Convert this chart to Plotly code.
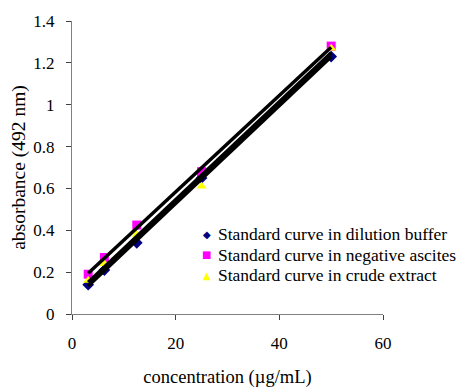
import numpy as np
import plotly.graph_objects as go

conc = [3.125, 6.25, 12.5, 25, 50]
buffer_vals = [0.14, 0.21, 0.34, 0.65, 1.23]
ascites_vals = [0.19, 0.27, 0.425, 0.68, 1.28]
crude_vals = [0.16, 0.24, 0.38, 0.61, 1.27]

series_names = ["Standard curve in dilution buffer",
                "Standard curve in negative ascites",
                "Standard curve in crude extract"]
series_vals = [buffer_vals, ascites_vals, crude_vals]
colors = ["#000080", "#FF00FF", "#FFFF00"]
symbols = ["diamond", "square", "triangle-up"]
legend_glyphs = ["\u25C6", "\u25A0", "\u25B2"]

fig = go.Figure()
for name, vals, color, sym in zip(series_names, series_vals, colors, symbols):
    fig.add_trace(go.Scatter(x=conc, y=vals, mode="markers", name=name, showlegend=False,
                             marker=dict(color=color, symbol=sym, size=9, line=dict(width=0))))
# linear trendlines
for vals in series_vals:
    k, b = np.polyfit(conc, vals, 1)
    xs = [conc[0], conc[-1]]
    fig.add_trace(go.Scatter(x=xs, y=[k * v + b for v in xs], mode="lines",
                             line=dict(color="black", width=3.5), showlegend=False,
                             hoverinfo="skip"))

serif = "Liberation Serif, Times New Roman, serif"
# legend drawn as annotations (row spacing of the original)
row_y = [0.273, 0.2014, 0.1331]
annotations = []
for name, color, glyph, yy in zip(series_names, colors, legend_glyphs, row_y):
    annotations.append(dict(xref="paper", yref="paper", x=0.434, y=yy, xanchor="center",
                            yanchor="middle", text=glyph, showarrow=False,
                            font=dict(family="DejaVu Sans", size=10, color=color)))
    annotations.append(dict(xref="paper", yref="paper", x=0.463, y=yy, xanchor="left",
                            yanchor="middle", text=name, showarrow=False,
                            font=dict(family=serif, size=17.5, color="black")))

fig.update_layout(
    width=461, height=388,
    margin=dict(l=72, r=78, t=21, b=74, autoexpand=False),
    paper_bgcolor="white", plot_bgcolor="white",
    font=dict(family=serif, size=17, color="black"),
    showlegend=False,
    annotations=annotations,
    xaxis=dict(range=[0, 60], tickvals=[0, 20, 40, 60], showgrid=False, zeroline=False,
               showline=True, linecolor="#808080", linewidth=1, ticks="outside", ticklen=5,
               tickcolor="#404040", ticklabelstandoff=9, automargin=False,
               title=dict(text="concentration (µg/mL)", standoff=19, font=dict(size=18.5))),
    yaxis=dict(range=[0, 1.4], tickvals=[0, 0.2, 0.4, 0.6, 0.8, 1, 1.2, 1.4],
               ticktext=["0", "0.2", "0.4", "0.6", "0.8", "1", "1.2", "1.4"],
               showgrid=False, zeroline=False, showline=True, linecolor="#808080", linewidth=1,
               ticks="outside", ticklen=5, tickcolor="#404040", ticklabelstandoff=8,
               automargin=False,
               title=dict(text="absorbance (492 nm)", standoff=2, font=dict(size=19.5))),
)
fig.write_html("out.html", config={"displayModeBar": False},
               post_script="document.body.style.margin='0';document.body.style.overflow='hidden';")
